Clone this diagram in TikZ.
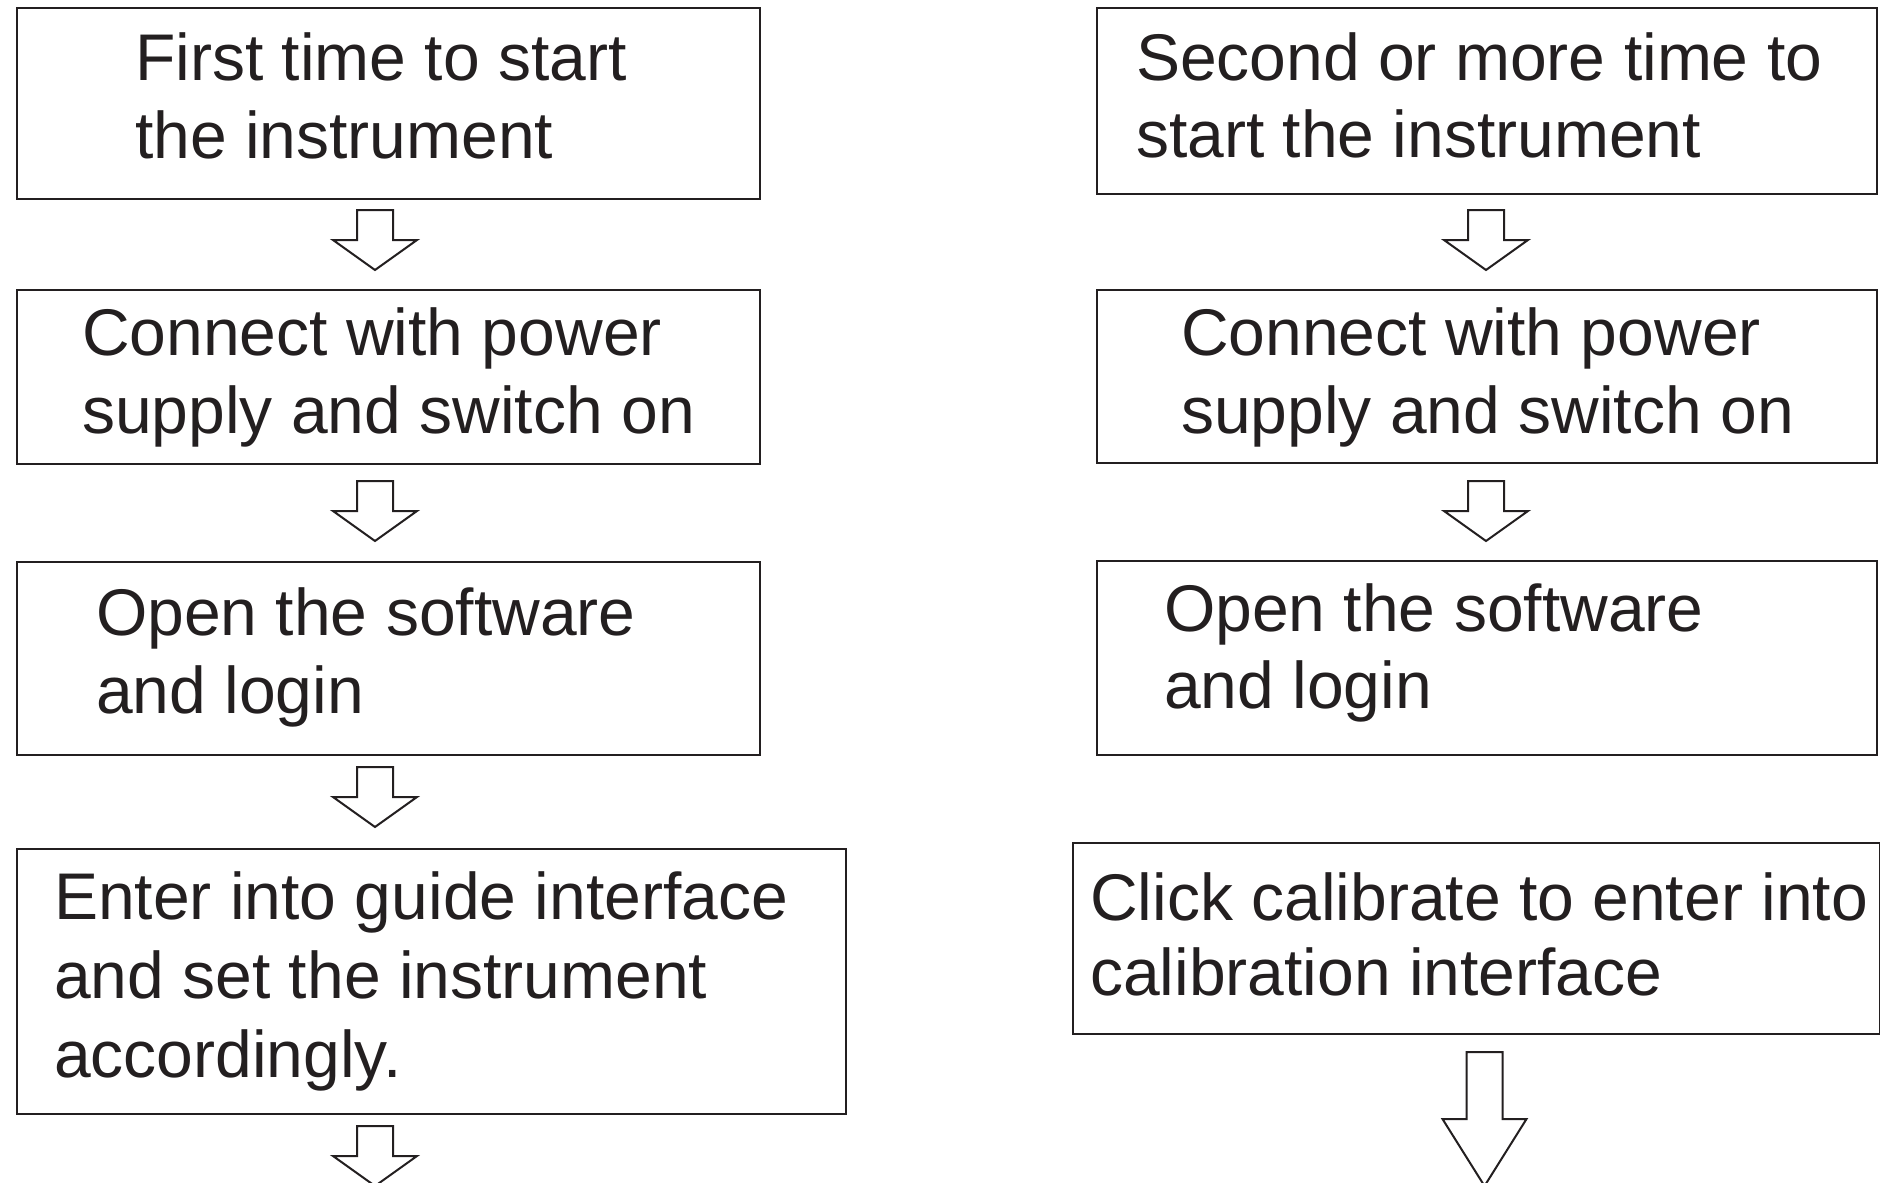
\documentclass[tikz,border=0pt]{standalone}
\usepackage{fontspec}
\setmainfont{Liberation Sans}
\definecolor{ink}{HTML}{231F20}
\tikzset{
  flowbox/.style={draw=ink, line width=2.4pt, rectangle, inner sep=0pt, anchor=north west},
  flowtxt/.style={anchor=base west, inner sep=0pt, text=ink, font=\fontsize{66}{78}\selectfont},
  blockarrow/.style={draw=ink, line width=2pt, fill=white, line join=miter}
}
\newcommand\downarrowshape[6]{% cx, stemtop, shoulder, tip, stem half, head half
  \draw[blockarrow] (#1-#5,#2) -- (#1+#5,#2) -- (#1+#5,#3) -- (#1+#6,#3) -- (#1,#4)
     -- (#1-#6,#3) -- (#1-#5,#3) -- cycle;}
\begin{document}
\begin{tikzpicture}[x=1pt,y=-1pt]
\useasboundingbox (0,0) rectangle (1880,1183);
% left column boxes
\node[flowbox, minimum width=743.5pt, minimum height=191pt] (L1) at (15.5,7) {};
\node[flowbox, minimum width=743.5pt, minimum height=174pt] (L2) at (15.5,289) {};
\node[flowbox, minimum width=743.5pt, minimum height=193pt] (L3) at (15.5,561) {};
\node[flowbox, minimum width=829.5pt, minimum height=265pt] (L4) at (15.5,848) {};
% right column boxes
\node[flowbox, minimum width=780pt, minimum height=186pt] (R1) at (1096,7) {};
\node[flowbox, minimum width=780pt, minimum height=173pt] (R2) at (1096,289) {};
\node[flowbox, minimum width=780pt, minimum height=194pt] (R3) at (1096,560) {};
\node[flowbox, minimum width=807pt, minimum height=191pt] (R4) at (1072,842) {};
% texts
\node[flowtxt] (tL1) at (135,80) {\vtop{\hbox{First time to start}\hbox{the instrument}}};
\node[flowtxt] (tL2) at (82,355) {\vtop{\hbox{Connect with power}\hbox{supply and switch on}}};
\node[flowtxt] (tL3) at (96,635) {\vtop{\hbox{Open the software}\hbox{and login}}};
\node[flowtxt, font=\fontsize{66}{79}\selectfont] (tL4) at (54,919) {\vtop{\hbox{Enter into guide interface}\hbox{and set the instrument}\hbox{accordingly.}}};
\node[flowtxt, font=\fontsize{66}{77}\selectfont] (tR1) at (1136,80) {\vtop{\hbox{Second or more time to}\hbox{start the instrument}}};
\node[flowtxt] (tR2) at (1181,355) {\vtop{\hbox{Connect with power}\hbox{supply and switch on}}};
\node[flowtxt, font=\fontsize{66}{77}\selectfont] (tR3) at (1164,631) {\vtop{\hbox{Open the software}\hbox{and login}}};
\node[flowtxt, font=\fontsize{66}{75}\selectfont] (tR4) at (1090,920) {\vtop{\hbox{Click calibrate to enter into}\hbox{calibration interface}}};
% arrows
\downarrowshape{375}{210}{240}{270}{18}{42}
\downarrowshape{375}{481}{511}{541}{18}{42}
\downarrowshape{375}{767}{797}{827}{18}{42}
\downarrowshape{375}{1126}{1156}{1186}{18}{42}
\downarrowshape{1486}{210}{240}{270}{18}{42}
\downarrowshape{1486}{481}{511}{541}{18}{42}
\downarrowshape{1484.5}{1052}{1119}{1186}{18}{42}
\end{tikzpicture}
\end{document}
